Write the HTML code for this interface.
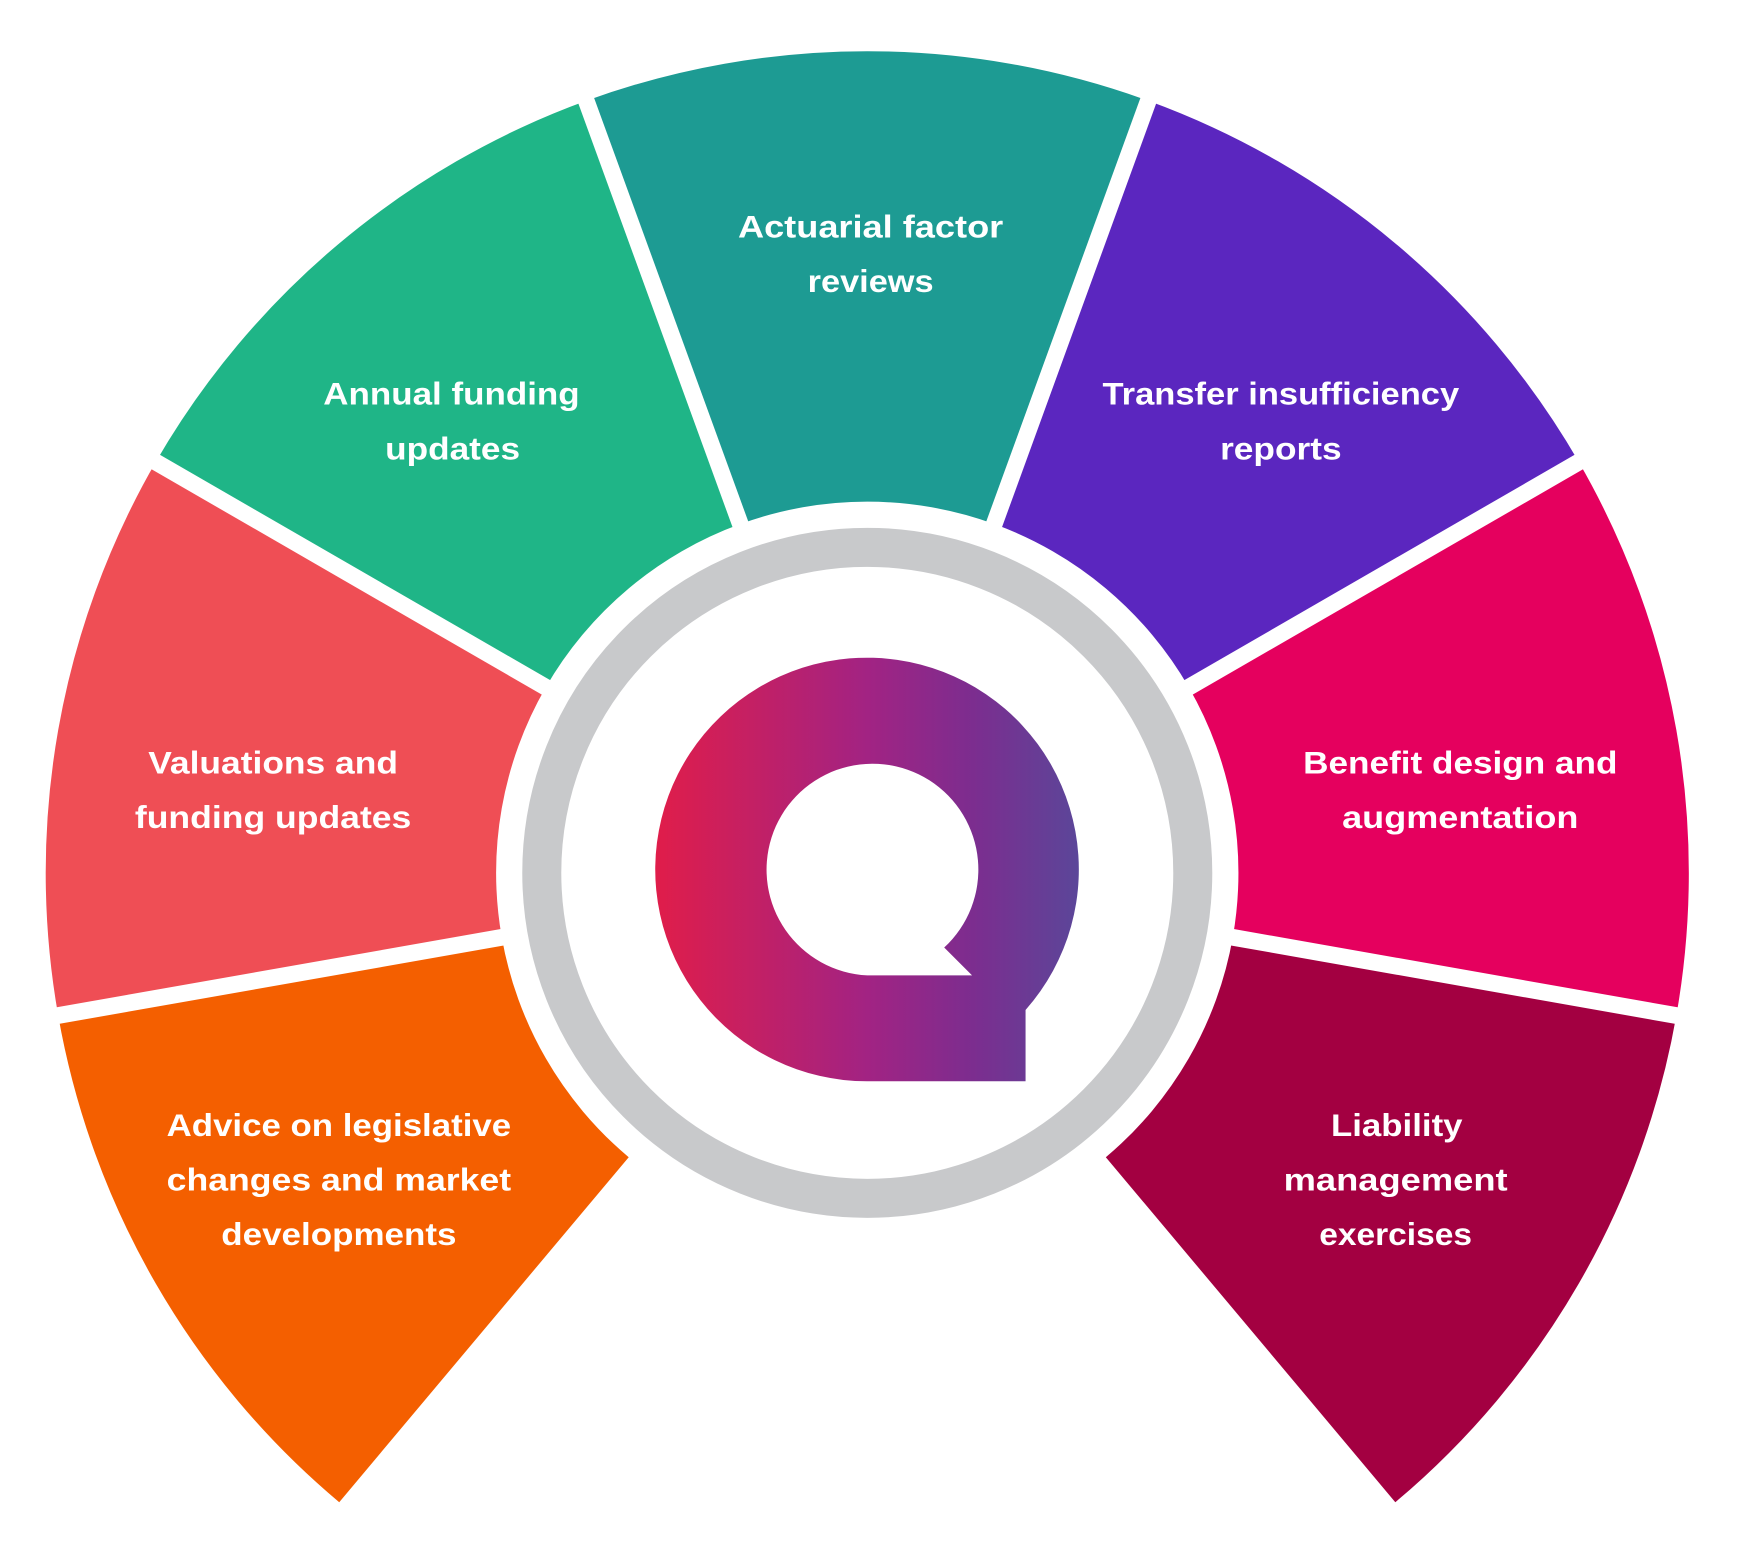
<!DOCTYPE html>
<html><head><meta charset="utf-8"><style>html,body{margin:0;padding:0;background:#fff}svg{display:block}</style></head>
<body>
<svg width="1739" height="1541" viewBox="0 0 1560 1382.4" xmlns="http://www.w3.org/2000/svg">
<defs>
<linearGradient id="g" x1="588" y1="0" x2="968" y2="0" gradientUnits="userSpaceOnUse">
<stop offset="0" stop-color="#e01d4a"/>
<stop offset="0.5" stop-color="#a22383"/>
<stop offset="0.75" stop-color="#7c2d8f"/>
<stop offset="1" stop-color="#5b4699"/>
</linearGradient>
</defs>
<g id="w"></g>
<script>
(function(){
var cx=778,cy=783,R=737,r=333;
var segs=[[-110,-70,'#1d9b93'],[-150,-110,'#1fb587'],[-190,-150,'#ef4e55'],[-230,-190,'#f45f00'],[-70,-30,'#5b26bf'],[-30,10,'#e5005e'],[10,50,'#a30041']];
var ns='http://www.w3.org/2000/svg',g=document.getElementById('w');
function p(a,rad){a=a*Math.PI/180;return (cx+rad*Math.cos(a)).toFixed(1)+','+(cy+rad*Math.sin(a)).toFixed(1);}
segs.forEach(function(s){var e=document.createElementNS(ns,'path');
e.setAttribute('d','M'+p(s[0],r)+' L'+p(s[0],R)+' A'+R+','+R+' 0 0 1 '+p(s[1],R)+' L'+p(s[1],r)+' A'+r+','+r+' 0 0 0 '+p(s[0],r)+'Z');
e.setAttribute('fill',s[2]);g.appendChild(e);});
[-110,-70,-150,-30,-190,10].forEach(function(a){var l=document.createElementNS(ns,'line');
var s=p(a,r-5).split(','),t=p(a,R+20).split(',');
l.setAttribute('x1',s[0]);l.setAttribute('y1',s[1]);l.setAttribute('x2',t[0]);l.setAttribute('y2',t[1]);
l.setAttribute('stroke','#fff');l.setAttribute('stroke-width','15');g.appendChild(l);});
})();
</script>
<circle cx="778" cy="783" r="310" fill="#fff"/>
<circle cx="778" cy="783" r="292" fill="#fff" stroke="#c8c9cb" stroke-width="35"/>
<path fill="url(#g)" fill-rule="evenodd" d="M920,970 L778,970 A190,190 0 1 1 920,906 Z M778,875 L872,875 L847,850 A95,95 0 1 0 778,875 Z"/>
<g fill="#fff" font-family="Liberation Sans, sans-serif" font-weight="bold" font-size="28" text-anchor="middle" lengthAdjust="spacingAndGlyphs">
<text x="781" y="213" textLength="238" lengthAdjust="spacingAndGlyphs">Actuarial factor</text>
<text x="781" y="262" textLength="113" lengthAdjust="spacingAndGlyphs">reviews</text>
<text x="405" y="363" textLength="230" lengthAdjust="spacingAndGlyphs">Annual funding</text>
<text x="406" y="412" textLength="121" lengthAdjust="spacingAndGlyphs">updates</text>
<text x="1149" y="363" textLength="320" lengthAdjust="spacingAndGlyphs">Transfer insufficiency</text>
<text x="1149" y="412" textLength="109" lengthAdjust="spacingAndGlyphs">reports</text>
<text x="245" y="694" textLength="224" lengthAdjust="spacingAndGlyphs">Valuations and</text>
<text x="245" y="743" textLength="248" lengthAdjust="spacingAndGlyphs">funding updates</text>
<text x="1310" y="694" textLength="282" lengthAdjust="spacingAndGlyphs">Benefit design and</text>
<text x="1310" y="743" textLength="212" lengthAdjust="spacingAndGlyphs">augmentation</text>
<text x="304" y="1019" textLength="309" lengthAdjust="spacingAndGlyphs">Advice on legislative</text>
<text x="304" y="1068" textLength="309" lengthAdjust="spacingAndGlyphs">changes and market</text>
<text x="304" y="1117" textLength="211" lengthAdjust="spacingAndGlyphs">developments</text>
<text x="1253" y="1019" textLength="118" lengthAdjust="spacingAndGlyphs">Liability</text>
<text x="1252" y="1068" textLength="201" lengthAdjust="spacingAndGlyphs">management</text>
<text x="1252" y="1117" textLength="137" lengthAdjust="spacingAndGlyphs">exercises</text>
</g>
</svg>
</body></html>
